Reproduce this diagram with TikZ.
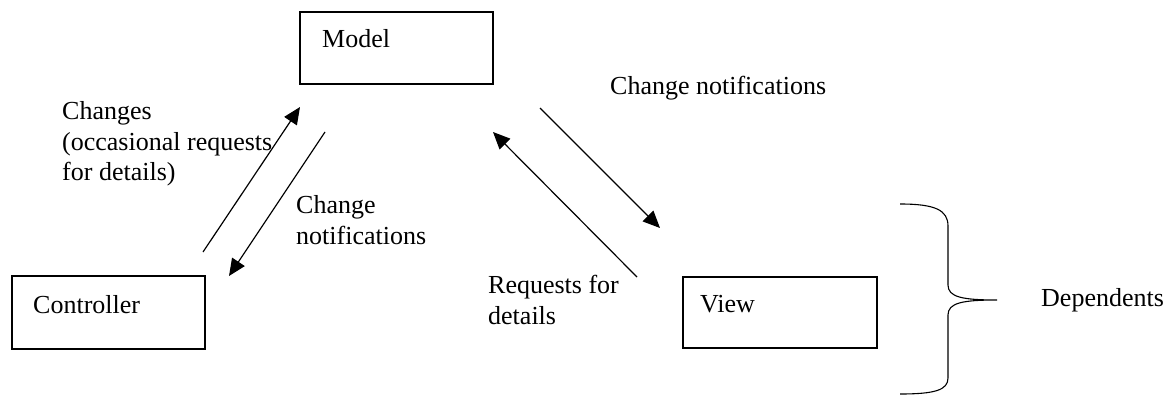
\documentclass[tikz,border=0pt]{standalone}
\usepackage{fontspec}
\setmainfont{Liberation Serif}
\usetikzlibrary{arrows.meta}
\tikzset{
  box/.style={draw, line width=1.4pt, rectangle, inner sep=0pt},
  txt/.style={anchor=base west, inner sep=0pt, font=\fontsize{26}{31}\selectfont},
  flow/.style={line width=1.2pt, -{Triangle[length=17pt,width=15pt]}},
}
\begin{document}
\begin{tikzpicture}[x=1pt,y=-1pt]
\useasboundingbox (0,0) rectangle (1168,396);

% boxes
\node[box, minimum width=193pt, minimum height=72pt] (model) at (396.5,48) {};
\node[box, minimum width=193pt, minimum height=73pt] (controller) at (108.5,312.5) {};
\node[box, minimum width=194pt, minimum height=71pt] (view) at (780,312.5) {};

% box captions
\node[txt] (tmodel) at (322,48) {Model};
\node[txt] (tcontroller) at (33,313) {Controller};
\node[txt] (tview) at (700,312) {View};

% arrow ends
\coordinate (a1s) at (203,252); \coordinate (a1e) at (300,107);
\coordinate (a2s) at (325,132); \coordinate (a2e) at (229,276);
\coordinate (a3s) at (637,277); \coordinate (a3e) at (493,132);
\coordinate (a4s) at (540,108); \coordinate (a4e) at (660,228);

\draw[flow] (a1s) -- (a1e);
\draw[flow] (a2s) -- (a2e);
\draw[flow] (a3s) -- (a3e);
\draw[flow] (a4s) -- (a4e);

% arrow labels
\node[txt] (l1a) at (62,120) {Changes};
\node[txt] (l1b) at (62,150) {(occasional requests};
\node[txt] (l1c) at (62,180) {for details)};
\node[txt] (l2a) at (296,213) {Change};
\node[txt] (l2b) at (296,244) {notifications};
\node[txt] (l3a) at (488,293) {Requests for};
\node[txt] (l3b) at (488,324) {details};
\node[txt] (l4) at (610,95) {Change notifications};

% brace grouping the dependents
\coordinate (btop) at (900,204);
\coordinate (btip) at (997,300);
\coordinate (bbot) at (900,394);
\draw[line width=1.1pt] (btop) .. controls (935,204) and (948,210) .. (948,226)
  -- (948,285) .. controls (948,297) and (962,300) .. (btip)
  .. controls (962,300) and (948,303) .. (948,315)
  -- (948,378) .. controls (948,390) and (935,394) .. (bbot);
\node[txt] (deps) at (1041,306) {Dependents};
\end{tikzpicture}
\end{document}
